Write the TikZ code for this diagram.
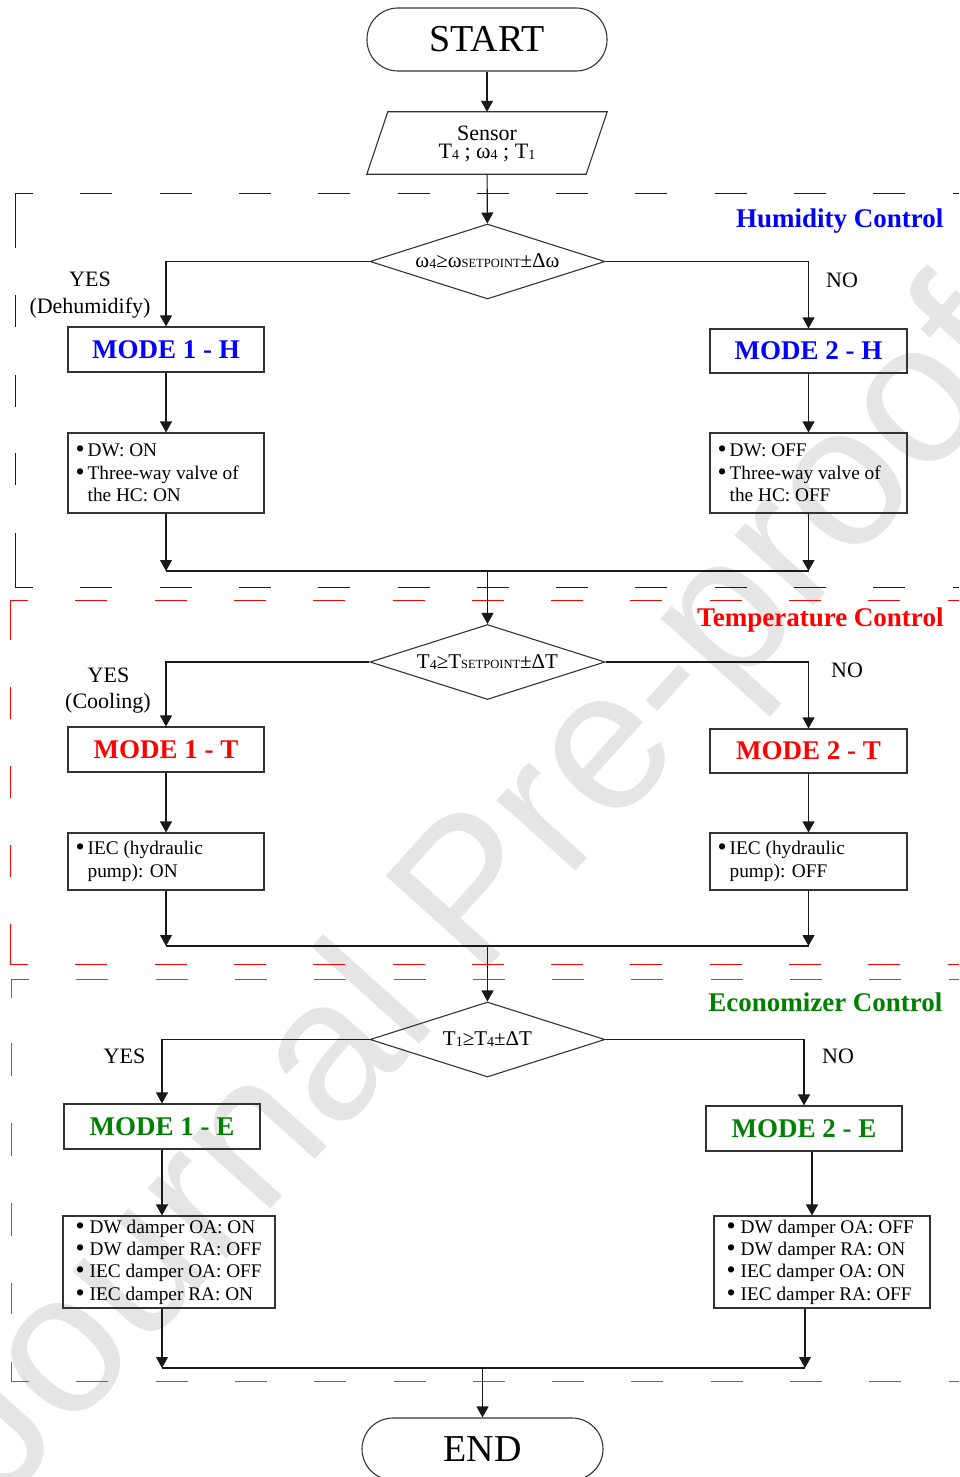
\documentclass[tikz,border=0pt]{standalone}
\usepackage{fontspec}
\setmainfont{Liberation Serif}
\newfontfamily\wmfont{Liberation Sans}
\usetikzlibrary{arrows.meta,shapes.geometric,calc}
\definecolor{hblue}{RGB}{0,0,255}
\definecolor{tred}{RGB}{255,0,0}
\definecolor{egreen}{RGB}{0,128,0}
\definecolor{dgreen}{RGB}{40,150,40}
\newcommand\sm[1]{\raisebox{-1pt}{\fontsize{14}{14}\selectfont #1}}
\newcommand\spt[1]{{\fontsize{12.5}{12}\selectfont #1}}
\newcommand\bigbul{\raisebox{-1pt}{\fontsize{26}{26}\selectfont •}}
\newcommand\bul{\makebox[12pt][l]{\bigbul}}
\newcommand\bulE{\makebox[14pt][l]{\bigbul}}
\newcommand\ind{\hspace*{12pt}}
\begin{document}
\begin{tikzpicture}[x=1pt,y=-1pt,
  ln/.style={line width=1.1pt, black!90},
  arr/.style={ln, -{Triangle[length=11pt,width=12pt]}},
  shp/.style={draw=black!80, line width=1.1pt, inner sep=0pt},
  modebox/.style={shp, minimum width=196pt, minimum height=45pt, font=\fontsize{27}{30}\selectfont\bfseries},
  bulbox/.style={shp},
  bultext/.style={anchor=west, inner sep=0pt, align=left, font=\fontsize{19.3}{22.4}\selectfont},
  dia/.style={shp, diamond, minimum width=235pt, minimum height=75pt},
  diatext/.style={font=\fontsize{21}{22}\selectfont},
  lbl/.style={font=\fontsize{22}{24}\selectfont, anchor=base},
  ttl/.style={font=\fontsize{27}{30}\selectfont\bfseries, anchor=base east},
  term/.style={shp, rounded corners=31pt, minimum width=240pt, minimum height=63pt, font=\fontsize{38}{40}\selectfont},
  dsh/.style={line width=0.9pt, dash pattern=on 32pt off 47.3pt, dash phase=14pt}
]
\useasboundingbox (0,0) rectangle (959,1477);
\clip (0,0) rectangle (959,1477);
% watermark
\node[rotate=48, text=black!10, font=\wmfont\fontsize{200}{200}\selectfont] (wm) at (480,900) {Journal Pre-proof};

% dashed control regions
\draw[hblue, dsh] (15,193) -- (975,193);
\draw[hblue, dsh] (15,587) -- (975,587);
\draw[hblue, line width=0.9pt, dash pattern=on 55pt off 47pt on 32pt off 48pt on 32pt off 46pt on 32pt off 48pt on 54pt off 20pt] (15,193) -- (15,587);
\draw[tred, dsh] (10,600) -- (975,600);
\draw[tred, dsh] (10,964) -- (975,964);
\draw[tred, line width=0.9pt, dash pattern=on 40pt off 47pt on 32pt off 47pt on 32pt off 47pt on 32pt off 47pt on 40pt off 20pt] (10,600) -- (10,964);
\draw[dgreen, dsh] (11,979) -- (975,979);
\draw[dgreen, dsh] (11,1381) -- (975,1381);
\draw[dgreen, line width=0.9pt, dash pattern=on 19pt off 45pt on 33pt off 47pt on 33pt off 47pt on 33pt off 47pt on 31pt off 48pt on 19pt off 20pt] (11,979) -- (11,1381);

% titles
\node[ttl, text=hblue] (tH) at (947,227) {Humidity Control};
\node[ttl, text=tred] (tT) at (947,626) {Temperature Control};
\node[ttl, text=egreen] (tE) at (946,1011) {Economizer Control};

% start and sensor
\node[term] (start) at (487,39.5) {START};
\node[minimum width=240pt, minimum height=62pt, inner sep=0pt] (sensor) at (487,143) {};
\draw[draw=black!80, line width=1.1pt] ($(sensor.north west)+(21,0)$) -- (sensor.north east) -- ($(sensor.south east)+(-21,0)$) -- (sensor.south west) -- cycle;
\node[lbl] (sens1) at (487,141) {Sensor};
\node[lbl] (sens2) at (487,158) {T\sm{4} ; ω\sm{4} ; T\sm{1}};

% humidity
\node[dia] (d1) at (487.5,261.5) {};
\node[diatext] (d1t) at (d1.center) {ω\sm{4}≥ω\spt{SETPOINT}±Δω};
\node[modebox, text=hblue] (m1h) at (166,349.5) {MODE 1 - H};
\node[modebox, minimum width=197pt, minimum height=44pt, text=hblue] (m2h) at (808.5,351) {MODE 2 - H};
\node[bulbox, minimum width=196pt, minimum height=80pt] (b1h) at (166,473) {};
\node[bultext] (b1ht) at ([xshift=8pt]b1h.west) {\bul DW: ON\\\bul Three-way valve of\\\ind the HC: ON};
\node[bulbox, minimum width=197pt, minimum height=80pt] (b2h) at (808.5,473) {};
\node[bultext] (b2ht) at ([xshift=8pt]b2h.west) {\bul DW: OFF\\\bul Three-way valve of\\\ind the HC: OFF};
\node[lbl] (yes1) at (90,286) {YES};
\node[lbl] (yes1b) at (90,313) {(Dehumidify)};
\node[lbl] (no1) at (842,287) {NO};

\draw[arr] (start) -- (sensor);
\draw[arr] (sensor) -- (d1);
\draw[arr] (d1.west) -| (m1h.north);
\draw[arr] (d1.east) -| (m2h.north);
\draw[arr] (m1h) -- (b1h);
\draw[arr] (m2h) -- (b2h);
\coordinate (j1l) at (166,571);
\coordinate (j1r) at (808.5,571);
\coordinate (j1) at (487.5,571);
\draw[arr] (b1h) -- (j1l);
\draw[arr] (b2h) -- (j1r);
\draw[ln] (j1l) -- (j1r);

% temperature
\node[dia] (d2) at (487.5,662) {};
\node[diatext] (d2t) at (d2.center) {T\sm{4}≥T\spt{SETPOINT}±ΔT};
\node[modebox, text=tred] (m1t) at (166,749.5) {MODE 1 - T};
\node[modebox, minimum width=197pt, minimum height=44pt, text=tred] (m2t) at (808.5,751) {MODE 2 - T};
\node[bulbox, minimum width=196pt, minimum height=57pt] (b1t) at (166,861.5) {};
\node[bultext] (b1tt) at ([xshift=8pt]b1t.west) {\bul IEC (hydraulic\\\ind pump): ON};
\node[bulbox, minimum width=197pt, minimum height=57pt] (b2t) at (808.5,861.5) {};
\node[bultext] (b2tt) at ([xshift=8pt]b2t.west) {\bul IEC (hydraulic\\\ind pump): OFF};
\node[lbl] (yes2) at (108.5,682) {YES};
\node[lbl] (yes2b) at (108,708) {(Cooling)};
\node[lbl] (no2) at (847,677) {NO};

\draw[arr] (j1) -- (d2.north);
\draw[arr] (d2.west) -| (m1t.north);
\draw[arr] (d2.east) -| (m2t.north);
\draw[arr] (m1t) -- (b1t);
\draw[arr] (m2t) -- (b2t);
\coordinate (j2l) at (166,946);
\coordinate (j2r) at (808.5,946);
\coordinate (j2) at (487.5,946);
\draw[arr] (b1t) -- (j2l);
\draw[arr] (b2t) -- (j2r);
\draw[ln] (j2l) -- (j2r);

% economizer
\node[dia] (d3) at (487.5,1039.5) {};
\node[diatext] (d3t) at (d3.center) {T\sm{1}≥T\sm{4}±ΔT};
\node[modebox, text=egreen] (m1e) at (162,1126.5) {MODE 1 - E};
\node[modebox, text=egreen] (m2e) at (804,1128.5) {MODE 2 - E};
\node[bulbox, minimum width=212pt, minimum height=92pt] (b1e) at (169,1262) {};
\node[bultext] (b1et) at ([xshift=13pt]b1e.west) {\bulE DW damper OA: ON\\\bulE DW damper RA: OFF\\\bulE IEC damper OA: OFF\\\bulE IEC damper RA: ON};
\node[bulbox, minimum width=216pt, minimum height=92pt] (b2e) at (822,1262) {};
\node[bultext] (b2et) at ([xshift=13pt]b2e.west) {\bulE DW damper OA: OFF\\\bulE DW damper RA: ON\\\bulE IEC damper OA: ON\\\bulE IEC damper RA: OFF};
\node[lbl] (yes3) at (124.5,1063) {YES};
\node[lbl] (no3) at (838,1063) {NO};

\draw[arr] (j2) -- (d3.north);
\draw[arr] (d3.west) -| (m1e.north);
\draw[arr] (d3.east) -| (m2e.north);
\draw[arr] (m1e.south) -- (m1e.south |- b1e.north);
\draw[arr] ([xshift=8pt]m2e.south) -- ([xshift=8pt]m2e.south |- b2e.north);
\coordinate (j3l) at (162,1368);
\coordinate (j3r) at (805,1368);
\coordinate (j3) at (482.5,1368);
\draw[arr] (b1e.south -| j3l) -- (j3l);
\draw[arr] (b2e.south -| j3r) -- (j3r);
\draw[ln] (j3l) -- (j3r);

\node[term, minimum width=241pt, minimum height=62pt] (end) at (482.5,1449) {END};
\draw[arr] (j3) -- (end.north);
\end{tikzpicture}
\end{document}
